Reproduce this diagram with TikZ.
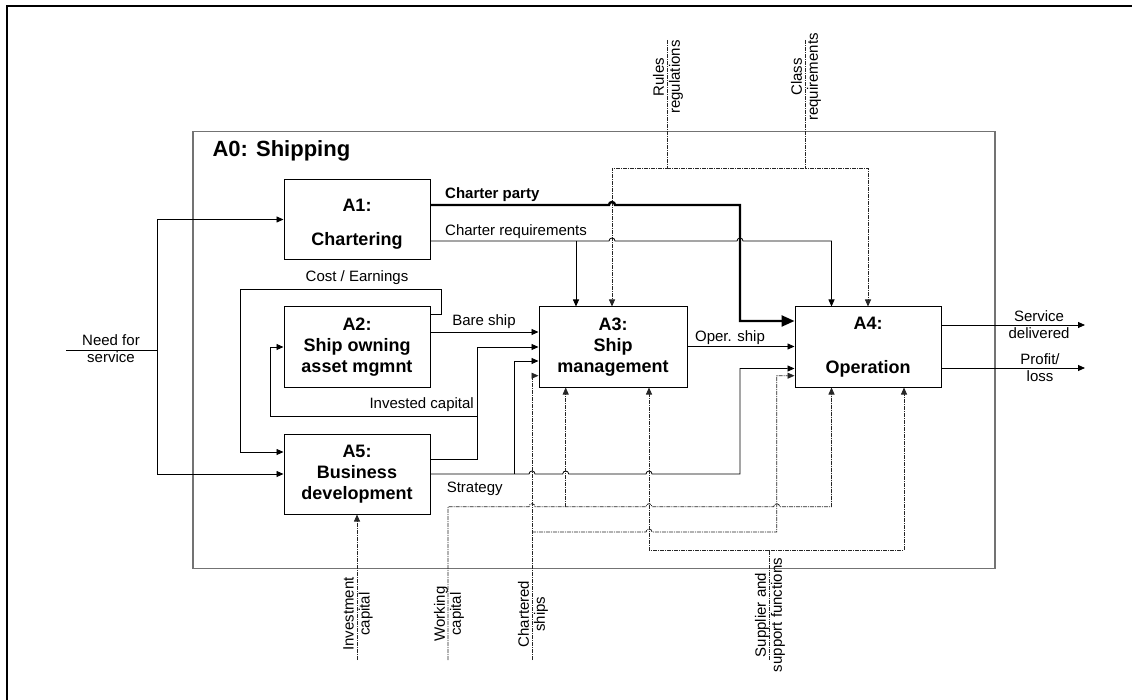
\documentclass[tikz,border=0pt]{standalone}
\usepackage{fontspec}
\setmainfont{Liberation Sans}
\usetikzlibrary{arrows.meta,positioning}

\newcommand{\boxfont}{\bfseries\fontsize{18}{21}\selectfont}
\newcommand{\lblfont}{\fontsize{15}{17}\selectfont}
% small bump where a line jumps over another
\newcommand{\hop}{arc[start angle=180,end angle=360,radius=3]}

\tikzset{
  func/.style={draw, line width=1pt, minimum width=146pt, minimum height=80pt,
    inner sep=0pt, align=center, font=\boxfont},
  flow/.style={line width=0.8pt, -{Triangle[length=7pt,width=6pt]}},
  ctrl/.style={flow, black!85, dash pattern=on 4pt off 1pt on 1pt off 1pt},
  lbl/.style={font=\lblfont, align=center, inner sep=0pt},
  vlbl/.style={lbl, rotate=90, font=\fontsize{15}{16}\selectfont},
}

\begin{document}
\begin{tikzpicture}[x=1pt, y=-1pt]
    \useasboundingbox (0,0) rectangle (1132,700);
    \draw[line width=2.5pt] (7,700) -- (7,6) -- (1132,6);

    % A0 frame
    \draw[black!55, line width=1.2pt] (193,131.5) rectangle (995,568.5);
    \node[anchor=base west, font=\bfseries\fontsize{22}{26}\selectfont] (a0) at (209,156.7) {A0: Shipping};

    % functions
    \node[func, text height=56.8pt] (a1) at (357,219.5) {A1:\\[13.3pt]Chartering};
    \node[func] (a2) at (357,347) {A2:\\Ship owning\\asset mgmnt};
    \node[func, minimum width=148pt] (a3) at (613,347) {A3:\\Ship\\management};
    \node[func] (a4) at (868,347) {A4:\\[22.6pt]Operation};
    \node[func] (a5) at (357,474) {A5:\\Business\\development};

    % outer ends
    \coordinate (need) at (66,350);
    \coordinate (nsplit) at (157,350);
    \coordinate (rules) at (667,40);
    \coordinate (class) at (805,40);
    \coordinate (invest) at (357,660);
    \coordinate (work) at (448,660);
    \coordinate (chart) at (532,660);
    \coordinate (supp) at (769,660);
    \coordinate (svc) at (1085,325);
    \coordinate (prof) at (1085,368);

    % inputs
    \draw[flow, -] (need) -- (nsplit);
    \draw[flow] (nsplit) |- (a1.west);
    \draw[flow] (nsplit) |- (a5.west);
    \node[lbl] (needlbl) at (111,349) {Need for\\service};

    % controls from outside
    \draw[ctrl] (rules) -- (667,168) -| (a3.north -| 612,0);
    \draw[ctrl] (class) -- (805,168) -| (a4.north -| 868,0);
    \draw[ctrl, -] (667,168) -- (805,168);
    \node[vlbl] (ruleslbl) at (668,77) {Rules\\regulations};
    \node[vlbl] (classlbl) at (806,77) {Class\\requirements};

    % charter party and requirements
    \draw[flow, line width=2.4pt, -{Triangle[length=13pt,width=11pt]}]
        (a1.east |- 0,205) -- (609,205) \hop -- (740,205) |- (a4.west |- 0,321);
    \node[lbl, font=\bfseries\lblfont, anchor=west] (cplbl) at (445,195) {Charter party};
    \draw[flow] (a1.east |- 0,241) -- (609,241) \hop -- (737,241) \hop -- (831.5,241)
        -- (a4.north -| 831.5,0);
    \draw[flow] (576,241) -- (a3.north -| 576,0);
    \node[lbl, anchor=west] (crlbl) at (445,232) {Charter requirements};

    % cost / earnings loop
    \draw[flow] (a2.east |- 0,314) -- (441,314) -- (441,289) -| (240,452) -- (a5.west |- 0,452);
    \node[lbl] (celbl) at (357,277.5) {Cost / Earnings};

    % bare ship
    \draw[flow] (a2.east |- 0,332) -- (a3.west |- 0,332);
    \node[lbl] (bslbl) at (484,321.7) {Bare ship};

    % invested capital
    \draw[flow] (a5.east |- 0,459) -| (477,347) -- (a3.west |- 0,347);
    \draw[flow] (477,416) -| (270,347) -- (a2.west);
    \node[lbl, anchor=east] (iclbl) at (474,405) {Invested capital};

    % strategy
    \draw[flow] (a5.east |- 0,474) -- (529,474) \hop -- (562.7,474) \hop -- (646,474) \hop
        -- (740,474) |- (a4.west |- 0,368.5);
    \draw[flow] (514,474) |- (a3.west |- 0,361);
    \node[lbl] (stlbl) at (474.7,489) {Strategy};

    % operated ship
    \draw[flow] (a3.east |- 0,346.5) -- (a4.west |- 0,346.5);
    \node[lbl] (oslbl) at (730,338) {Oper. ship};

    % outputs
    \draw[flow] (a4.east |- svc) -- (svc);
    \draw[flow] (a4.east |- prof) -- (prof);
    \node[lbl] (svclbl) at (1039,324.5) {Service\\delivered};
    \node[lbl] (proflbl) at (1040,368) {Profit/\\loss};

    % mechanisms
    \draw[ctrl] (invest) -- (a5.south -| invest);
    \draw[ctrl] (work) -- (448,506.7) -- (529,506.7) \hop -- (646,506.7) \hop
        -- (773.7,506.7) \hop -- (831.5,506.7) -- (a4.south -| 831.5,0);
    \draw[ctrl] (565.7,506.7) -- (a3.south -| 565.7,0);
    \draw[ctrl] (chart) -- (532,375.7) -- (a3.west |- 0,375.7);
    \draw[ctrl] (532,532) -- (646,532) \hop -- (776.7,532) |- (a4.west |- 0,375.7);
    \draw[ctrl] (supp) -- (769,550) -| (a4.south -| 904,0);
    \draw[ctrl] (769,550) -| (a3.south -| 649,0);

    \node[vlbl] (invlbl) at (358,614) {Investment\\capital};
    \node[vlbl] (wclbl) at (449,614) {Working\\capital};
    \node[vlbl] (chlbl) at (533,614) {Chartered\\ships};
    \node[vlbl] (supplbl) at (770,615) {Supplier and\\support functions};
\end{tikzpicture}
\end{document}
